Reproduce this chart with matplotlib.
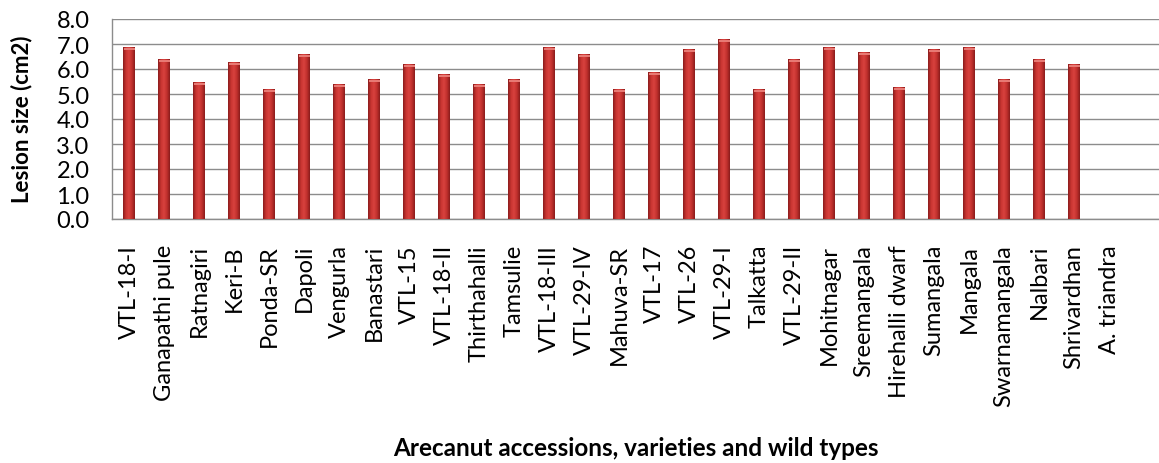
import matplotlib
matplotlib.use("Agg")
import matplotlib.pyplot as plt
import numpy as np
from matplotlib.colors import LinearSegmentedColormap

# categorias y tamano de lesion
accesiones = ["VTL-18-I", "Ganapathi pule", "Ratnagiri", "Keri-B", "Ponda-SR",
              "Dapoli", "Vengurla", "Banastari", "VTL-15", "VTL-18-II",
              "Thirthahalli", "Tamsulie", "VTL-18-III", "VTL-29-IV", "Mahuva-SR",
              "VTL-17", "VTL-26", "VTL-29-I", "Talkatta", "VTL-29-II",
              "Mohitnagar", "Sreemangala", "Hirehalli dwarf", "Sumangala", "Mangala",
              "Swarnamangala", "Nalbari", "Shrivardhan", "A. triandra"]
lesion = [6.9, 6.4, 5.5, 6.3, 5.2, 6.6, 5.4, 5.6, 6.2, 5.8,
          5.4, 5.6, 6.9, 6.6, 5.2, 5.9, 6.8, 7.2, 5.2, 6.4,
          6.9, 6.7, 5.3, 6.8, 6.9, 5.6, 6.4, 6.2, 0.0]
ticks_y = [0, 1, 2, 3, 4, 5, 6, 7, 8]

plt.rcParams['font.family'] = ['Lato', 'DejaVu Sans']

fig = plt.figure(figsize=(11.59, 4.64), dpi=100)
ax = fig.add_axes([111.7 / 1159, 1 - 220 / 464, 1 - 111.7 / 1159, 200 / 464])

x = np.arange(len(accesiones))
ancho = 0.34

# degradado horizontal para simular el cilindro de excel
cmap_barra = LinearSegmentedColormap.from_list(
    "barra", ["#8a1c1c", "#c83431", "#d8423e", "#c0302d", "#8a1c1c"])
grad = np.linspace(0, 1, 64).reshape(1, -1)

barras = ax.bar(x, lesion, width=ancho, color="#b52a28", zorder=2, linewidth=0)
for b in barras:
    h = b.get_height()
    if h <= 0:
        continue
    x0 = b.get_x()
    img = ax.imshow(grad, cmap=cmap_barra, aspect="auto",
                    extent=(x0, x0 + ancho, 0, h), zorder=3)
    img.set_clip_path(b)
    # brillo pequeno en la parte superior
    ax.bar(x0 + ancho / 2, 0.08, width=ancho * 0.9, bottom=h - 0.12,
           color="#e77a74", linewidth=0, zorder=4)

ax.set_xlim(-0.5, -0.5 + (1159 - 111.7) / 35.0)
ax.set_ylim(0, 8)
ax.set_yticks(ticks_y)
ax.set_yticklabels([f"{v:.1f}" for v in ticks_y], fontsize=17)
ax.set_xticks(x)
ax.set_xticklabels(accesiones, rotation=90, fontsize=17)
ax.tick_params(axis="x", length=0, pad=18)
ax.tick_params(axis="y", length=0, pad=16)

ax.yaxis.grid(True, color="#8c8c8c", linewidth=1.0, zorder=0)
ax.set_axisbelow(True)
for lado in ["top", "right"]:
    ax.spines[lado].set_visible(False)
for lado in ["left", "bottom"]:
    ax.spines[lado].set_color("#8c8c8c")
    ax.spines[lado].set_linewidth(1.0)

fig.text(22 / 1159, 1 - 119 / 464, "Lesion size (cm2)", rotation=90,
         ha="center", va="center", fontsize=16, fontweight="bold")
fig.text(0.549, 1 - 449 / 464, "Arecanut accessions, varieties and wild types",
         ha="center", va="center", fontsize=17.5, fontweight="bold")

fig.savefig("out.png", dpi=100)
